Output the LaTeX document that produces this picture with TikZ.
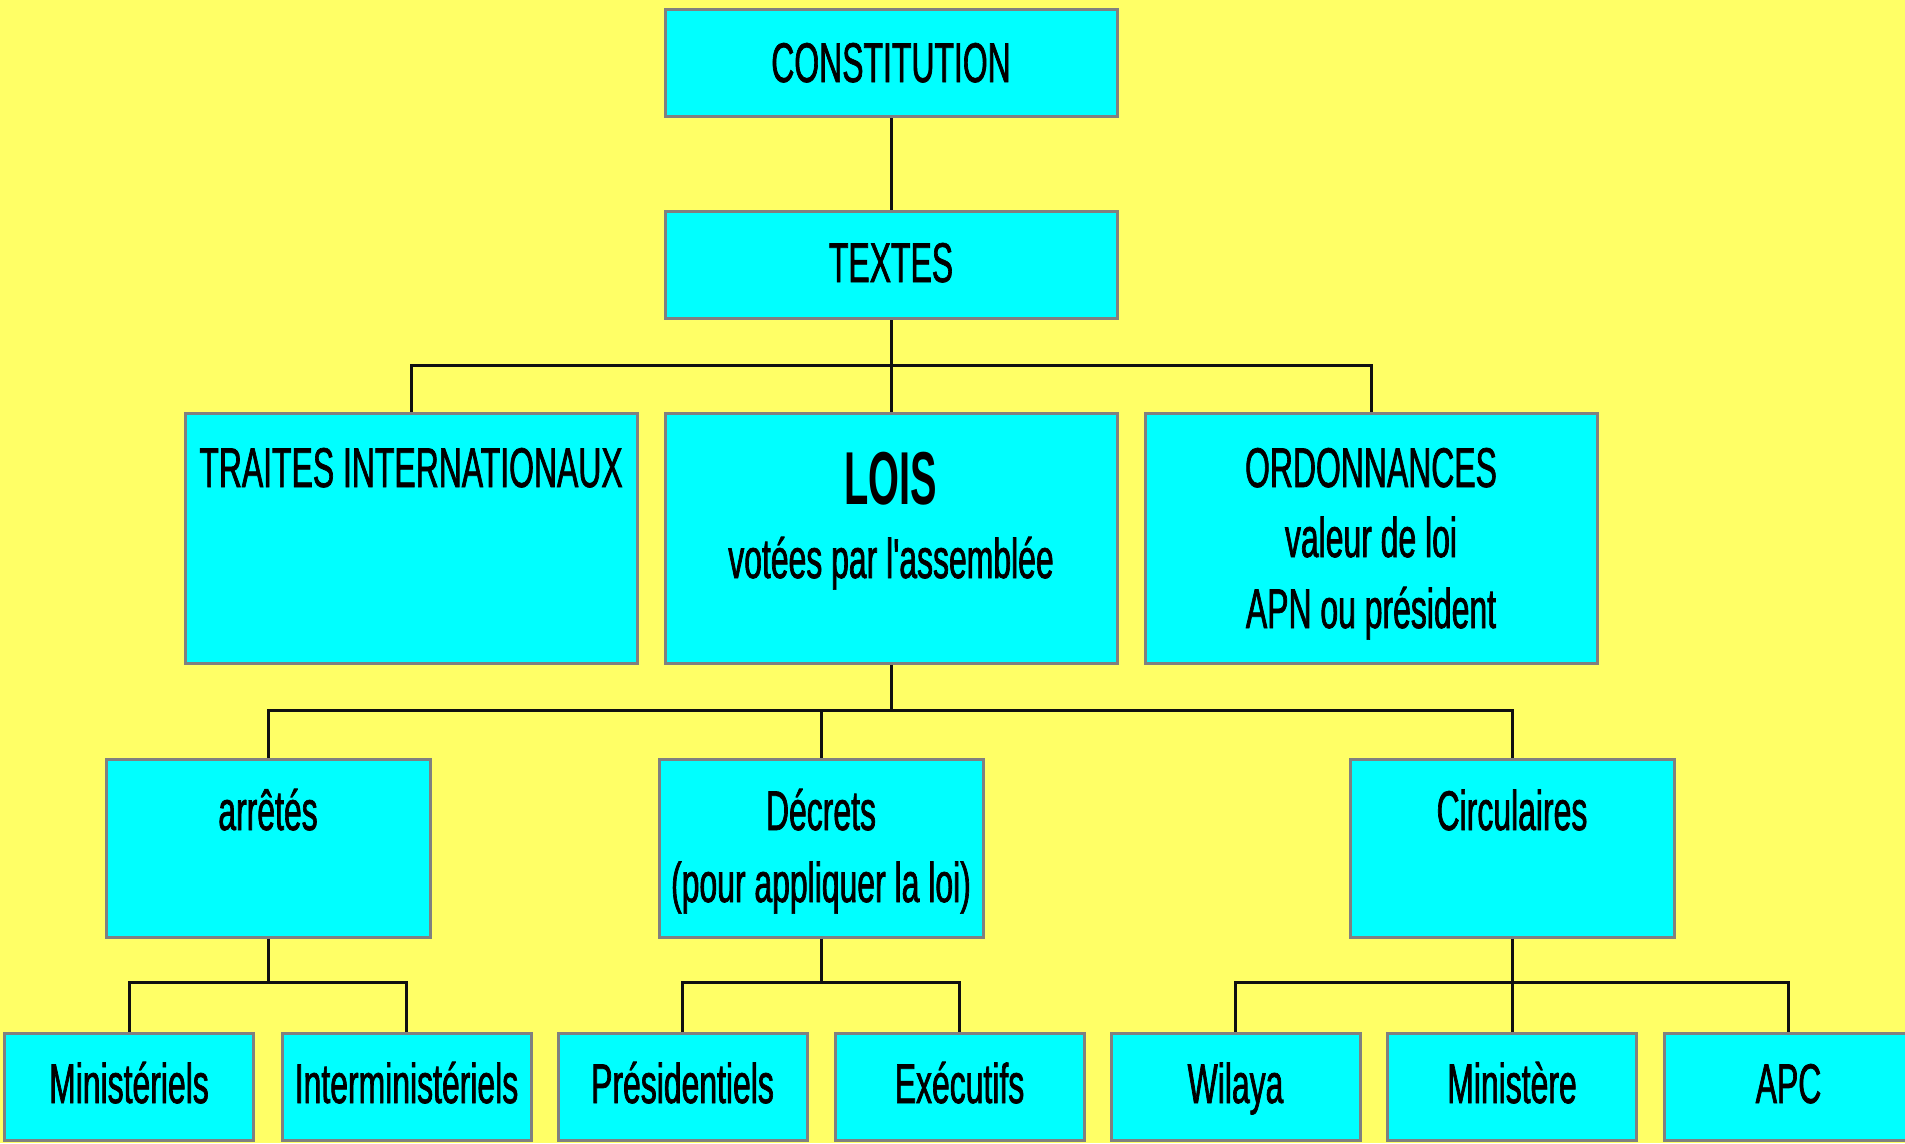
\documentclass[tikz,border=0pt]{standalone}
\usepackage{fontspec}
\newfontfamily\narrowfont[FakeStretch=0.57,FakeBold=1.2]{Liberation Sans}
\newfontfamily\loisfont[FakeStretch=0.53]{Liberation Sans}
\definecolor{bgyellow}{HTML}{FFFF66}
\definecolor{boxcyan}{HTML}{00FFFF}
\definecolor{boxedge}{HTML}{808080}
\definecolor{connline}{HTML}{101010}
\tikzset{
  box/.style={rectangle, draw=boxedge, line width=3pt, fill=boxcyan, inner sep=0pt},
  bigbox/.style={box, minimum width=452pt, minimum height=250pt},
  topbox/.style={box, minimum width=452pt, minimum height=107pt},
  midbox/.style={box, minimum width=324pt, minimum height=178pt},
  leafbox/.style={box, minimum width=249pt, minimum height=107pt},
  lbl/.style={anchor=base, inner sep=0pt, font=\narrowfont\fontsize{56pt}{60pt}\selectfont},
  loislbl/.style={anchor=base, inner sep=0pt, font=\loisfont\bfseries\fontsize{75pt}{80pt}\selectfont},
  conn/.style={draw=connline, line width=3pt}
}
\begin{document}
\begin{tikzpicture}[x=1pt, y=-1pt]
\useasboundingbox (0,0) rectangle (1905,1143);
\clip (0,0) rectangle (1905,1143);
\fill[bgyellow] (0,0) rectangle (1905,1143);

% boxes
\node[topbox] (const) at (891,63) {};
\node[topbox] (textes) at (891,265) {};
\node[bigbox] (traites) at (411,538) {};
\node[bigbox] (lois) at (891,538) {};
\node[bigbox] (ordo) at (1371,538) {};
\node[midbox] (arretes) at (268,848) {};
\node[midbox] (decrets) at (821,848) {};
\node[midbox] (circ) at (1512,848) {};
\node[leafbox] (minis) at (129,1086.5) {};
\node[leafbox] (intermin) at (406.5,1086.5) {};
\node[leafbox] (presid) at (682.5,1086.5) {};
\node[leafbox] (exec) at (959.5,1086.5) {};
\node[leafbox] (wilaya) at (1235.5,1086.5) {};
\node[leafbox] (ministere) at (1512,1086.5) {};
\node[leafbox] (apc) at (1788.5,1086.5) {};

% connectors
\draw[conn] (const.south) -- (textes.north);
\draw[conn] (textes.south) -- (lois.north);
\draw[conn] (traites.north) -- ++(0,-46) -| (ordo.north);
\draw[conn] (lois.south) -- ++(0,46);
\draw[conn] (arretes.north) -- ++(0,-47) -| (circ.north);
\draw[conn] (decrets.north) -- ++(0,-47);
\draw[conn] (arretes.south) -- ++(0,44);
\draw[conn] (minis.north) -- ++(0,-49) -| (intermin.north);
\draw[conn] (decrets.south) -- ++(0,44);
\draw[conn] (presid.north) -- ++(0,-49) -| (exec.north);
\draw[conn] (circ.south) -- (ministere.north);
\draw[conn] (wilaya.north) -- ++(0,-49) -| (apc.north);

% texts
\node[lbl] (tconst) at (891,82) {CONSTITUTION};
\node[lbl] (ttextes) at (891,282) {TEXTES};
\node[lbl] (ttraites) at (411,487) {TRAITES INTERNATIONAUX};
\node[loislbl] (tlois) at (891,504) {LOIS};
\node[lbl] (tlois2) at (891,578) {votées par l'assemblée};
\node[lbl] (tordo) at (1371,487) {ORDONNANCES};
\node[lbl] (tordo2) at (1371,557) {valeur de loi};
\node[lbl] (tordo3) at (1371,628) {APN ou président};
\node[lbl] (tarretes) at (268,830) {arrêtés};
\node[lbl] (tdecrets) at (821,830) {Décrets};
\node[lbl] (tdecrets2) at (821,902) {(pour appliquer la loi)};
\node[lbl] (tcirc) at (1512,830) {Circulaires};
\node[lbl] (tminis) at (129,1103) {Ministériels};
\node[lbl] (tintermin) at (406.5,1103) {Interministériels};
\node[lbl] (tpresid) at (682.5,1103) {Présidentiels};
\node[lbl] (texec) at (959.5,1103) {Exécutifs};
\node[lbl] (twilaya) at (1235.5,1103) {Wilaya};
\node[lbl] (tministere) at (1512,1103) {Ministère};
\node[lbl] (tapc) at (1788.5,1103) {APC};
\end{tikzpicture}
\end{document}
